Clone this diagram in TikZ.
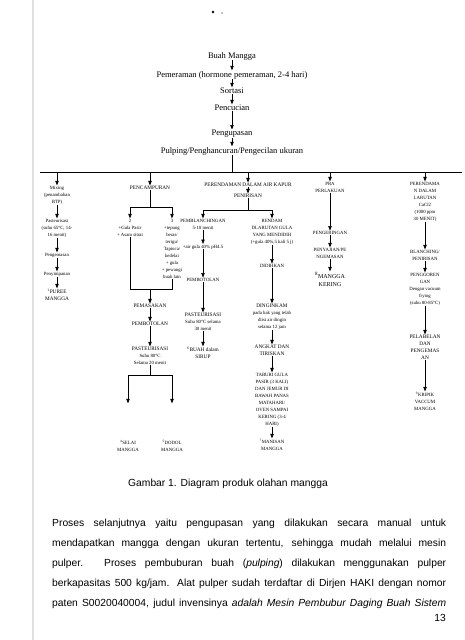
\documentclass[tikz,border=0pt]{standalone}
\usepackage{fontspec}
\setmainfont{Liberation Serif}
\newfontfamily\arialf{Liberation Sans}
\usetikzlibrary{arrows.meta}
\tikzset{
  lbl/.style={inner sep=0pt, align=center, font=\fontsize{4.8}{7}\selectfont},
  capl/.style={inner sep=0pt, align=center, font=\fontsize{5.3}{7}\selectfont},
  topl/.style={inner sep=0pt, font=\fontsize{8.5}{10}\selectfont},
  arr/.style={-{Triangle[length=4.5pt,width=3.4pt]}, line width=0.6pt, shorten >=0.6pt},
  ln/.style={line width=0.6pt},
  para/.style={inner sep=0pt, anchor=west, font=\arialf\fontsize{10.3}{12}\selectfont}
}
\begin{document}
\begin{tikzpicture}[x=1pt,y=-1pt]
\useasboundingbox (0,0) rectangle (465,640);
\fill[white] (0,0) rectangle (465,640);
% scan artefacts
\draw[black!12, line width=2pt] (33,0) -- (33,640);
\fill (213,12) circle (1.3pt);
\fill (222,13) circle (0.6pt);

% main chain
\node[topl] (b1) at (232,56) {Buah Mangga};
\node[topl] (b2) at (232,75) {Pemeraman (hormone pemeraman, 2-4 hari)};
\node[topl] (b3) at (232,91) {Sortasi};
\node[topl] (b4) at (232,108) {Pencucian};
\node[topl] (b5) at (232,134) {Pengupasan};
\node[topl] (b6) at (232,151) {Pulping/Penghancuran/Pengecilan ukuran};
\draw[arr] (b1.south) -- (b2.north);
\draw[arr] (b2.south) -- (b3.north);
\draw[arr] (b3.south) -- (b4.north);
\draw[arr] (b4.south) -- (b5.north);
\draw[arr] (b5.south) -- (b6.north);
\coordinate (bar) at (232,172);
\coordinate (barL) at (40,172);
\coordinate (barR) at (462,172);
\draw[ln] (b6.south) -- (bar);
\draw[ln] (barL) -- (barR);

% column 1
\node[lbl,anchor=north] (m1) at (57,186) {Mixing\\(penambahan\\BTP)};
\node[lbl,anchor=north] (m2) at (57,219) {Pasteurisasi\\(suhu 65°C, 14-\\16 menit)};
\node[lbl,anchor=north] (m3) at (57,253) {Pengemasan};
\node[lbl,anchor=north] (m4) at (57,272) {Penyimpanan};
\node[capl,anchor=north] (m5) at (57,289) {\textsuperscript{1}PUREE\\MANGGA};
\coordinate (d1) at (57,172);
\draw[arr] (d1) -- (m1.north);
\draw[arr] (m1.south) -- (m2.north);
\draw[arr] (m2.south) -- (m3.north);
\draw[arr] (m3.south) -- (m4.north);
\draw[arr] (m4.south) -- (m5.north);

% column 2
\node[capl] (p0) at (150,188) {PENCAMPURAN};
\coordinate (d2) at (150,172);
\draw[arr] (d2) -- (p0.north);
\node[lbl,anchor=north] (p1) at (130,219) {2\\+Gula Pasir\\+ Asam sitrat};
\node[lbl,anchor=north] (p2) at (172,219) {3\\+tepung\\beras/\\terigu/\\Tapioca/\\kedelai\\+ gula\\+ pewangi\\buah lain};
\coordinate (sp) at (150,207);
\coordinate (spL) at (130,207);
\coordinate (spR) at (172,207);
\draw[ln] (p0.south) -- (sp);
\draw[ln] (spL) -- (spR);
\draw[arr] (spL) -- (p1.north);
\draw[arr] (spR) -- (p2.north);
\coordinate (mgL) at (130,289);
\coordinate (mgR) at (172,289);
\coordinate (mg) at (150,289);
\draw[ln] (p1.south) -- (mgL) -- (mgR) -- (p2.south);
\node[capl] (p3) at (150,306) {PEMASAKAN};
\node[capl] (p4) at (150,324) {PEMBOTOLAN};
\node[lbl,anchor=north] (p5) at (150,347) {{\fontsize{5.3}{7}\selectfont PASTEURISASI}\\Suhu 80°C\\Selama 20 menit};
\draw[arr] (mg) -- (p3.north);
\draw[arr] (p3.south) -- (p4.north);
\draw[arr] (p4.south) -- (p5.north);
\coordinate (s2c) at (150,375);
\coordinate (s2L) at (128,375);
\coordinate (s2R) at (172,375);
\coordinate (e2L) at (128,404);
\coordinate (e2R) at (172,404);
\draw[ln] (p5.south) -- (s2c);
\draw[ln] (s2L) -- (s2R);
\draw[arr] (s2L) -- (e2L);
\draw[arr] (s2R) -- (e2R);
\node[lbl,anchor=north] (p6) at (128,440) {\textsuperscript{4}SELAI\\MANGGA};
\node[lbl,anchor=north] (p7) at (172,440) {\textsuperscript{5}DODOL\\MANGGA};

% column 3
\node[capl] (r0) at (248,185) {PERENDAMAN DALAM AIR KAPUR};
\node[capl] (r1) at (248,196) {PENIRISAN};
\coordinate (d3) at (248,172);
\draw[arr] (d3) -- (r0.north);
\draw[arr] (r0.south) -- (r1.north);
\coordinate (s3c) at (248,210);
\coordinate (s3L) at (203,210);
\coordinate (s3R) at (272,210);
\draw[ln] (r1.south) -- (s3c);
\draw[ln] (s3L) -- (s3R);
\node[lbl,anchor=north] (r2) at (203,219) {PEMBLANCHINGAN\\5-10 menit};
\node[lbl] (r3) at (203,247) {+air gula 40\% pH4.5};
\node[lbl] (r4) at (203,280) {PEMBOTOLAN};
\node[lbl,anchor=north] (r5) at (203,313) {{\fontsize{5.3}{7}\selectfont PASTEURISASI}\\Suhu 80°C selama\\30 menit};
\node[capl,anchor=north] (r6) at (203,347) {\textsuperscript{6}BUAH dalam\\SIRUP};
\draw[arr] (s3L) -- (r2.north);
\draw[arr] (r2.south) -- (r3.north);
\draw[arr] (r3.south) -- (r4.north);
\draw[arr] (r4.south) -- (r5.north);
\draw[arr] (r5.south) -- (r6.north);

\node[lbl,anchor=north] (u1) at (272,219) {RENDAM\\DLARUTAN GULA\\YANG MENDIDIH\\(+gula 40\%,5 kali 5 j)};
\node[lbl] (u2) at (272,266) {DIDIHKAN};
\node[lbl,anchor=north] (u3) at (272,304) {{\fontsize{5.3}{7}\selectfont DINGINKAM}\\pada bak yang telah\\diisi air dingin\\selama 12 jam};
\node[capl,anchor=north] (u4) at (272,345) {ANGKAT DAN\\TIRISKAN};
\node[lbl,anchor=north] (u5) at (272,373) {TABURI GULA\\PASIR (3 KALI)\\DAN JEMUR DI\\BAWAH PANAS\\MATAHARI/\\OVEN SAMPAI\\KERING (3-4\\HARI)};
\node[lbl,anchor=north] (u6) at (272,439) {\textsuperscript{7}MANISAN\\MANGGA};
\draw[arr] (s3R) -- (u1.north);
\draw[arr] (u1.south) -- (u2.north);
\draw[arr] (u2.south) -- (u3.north);
\draw[arr] (u3.south) -- (u4.north);
\draw[arr] (u4.south) -- (u5.north);
\draw[arr] (u5.south) -- (u6.north);

% column 4
\node[lbl,anchor=north] (q0) at (330,182) {PRA\\PERLAKUAN};
\node[lbl] (q1) at (330,233) {PENGERINGAN};
\node[lbl,anchor=north] (q2) at (330,248) {PENYAJIAN/PE\\NGEMASAN};
\node[inner sep=0pt, align=center, font=\fontsize{6}{8}\selectfont, anchor=north] (q3) at (330,272) {\textsuperscript{8}MANGGA\\KERING};
\coordinate (d4) at (330,172);
\draw[arr] (d4) -- (q0.north);
\draw[arr] (q0.south) -- (q1.north);
\draw[arr] (q1.south) -- (q2.north);
\draw[arr] (q2.south) -- (q3.north);

% column 5
\node[lbl,anchor=north] (t0) at (425,182) {PERENDAMA\\N DALAM\\LARUTAN\\CaCl2\\(1000 ppm\\30 MENIT)};
\node[lbl,anchor=north] (t1) at (425,250) {BLANCHING/\\PENIRISAN};
\node[lbl,anchor=north] (t2) at (425,273) {PENGGOREN\\GAN\\Dengan vacuum\\frying\\(suhu 80-85°C)};
\node[capl,anchor=north] (t3) at (425,335) {PELABELAN\\DAN\\PENGEMAS\\AN};
\node[lbl,anchor=north] (t4) at (425,392) {\textsuperscript{9}KRIPIK\\VACCUM\\MANGGA};
\coordinate (d5) at (425,172);
\draw[arr] (d5) -- (t0.north);
\draw[arr] (t0.south) -- (t1.north);
\draw[arr] (t1.south) -- (t2.north);
\draw[arr] (t2.south) -- (t3.north);
\draw[arr] (t3.south) -- (t4.north);

% caption and text
\node[inner sep=0pt, font=\arialf\fontsize{10.3}{12}\selectfont] (cap1) at (228,484) {Gambar 1. Diagram produk olahan mangga};
\node[para] (l1) at (52,524) {\makebox[394pt][s]{Proses selanjutnya yaitu pengupasan yang dilakukan secara manual untuk}};
\node[para] (l2) at (52,544) {\makebox[394pt][s]{mendapatkan mangga dengan ukuran tertentu, sehingga mudah melalui mesin}};
\node[para] (l3) at (52,564) {\makebox[394pt][s]{pulper. Proses pembuburan buah (\textit{pulping}) dilakukan menggunakan pulper}};
\node[para] (l4) at (52,584) {\makebox[394pt][s]{berkapasitas 500 kg/jam. Alat pulper sudah terdaftar di Dirjen HAKI dengan nomor}};
\node[para] (l5) at (52,604) {\makebox[394pt][s]{paten S0020040004, judul invensinya \textit{adalah Mesin Pembubur Daging Buah Sistem}}};
\node[inner sep=0pt, anchor=east, font=\arialf\fontsize{10.3}{12}\selectfont] (pg) at (446,618) {13};
\end{tikzpicture}
\end{document}
